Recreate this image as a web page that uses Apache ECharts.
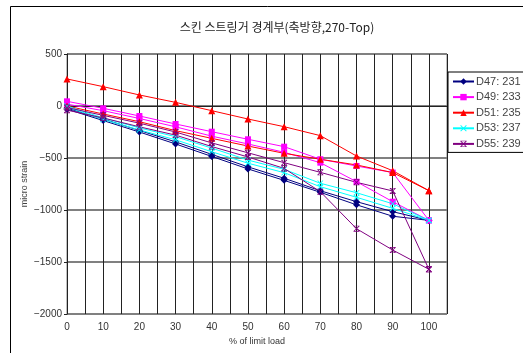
<!DOCTYPE html>
<html><head><meta charset="utf-8">
<script src="https://cdn.jsdelivr.net/npm/echarts@6/dist/echarts.min.js"></script>
<style>html,body{margin:0;padding:0;background:#fff}#c{width:523px;height:353px}</style>
</head><body><div id="c"></div>
<script>
const xValues = [0,10,20,30,40,50,60,70,80,90,100];
const xTicks = [0,10,20,30,40,50,60,70,80,90,100];
const yTicks = [-2000,-1500,-1000,-500,0,500];
const names = ['D47: 231','D49: 233','D51: 235','D53: 237','D55: 239'];
const d47a = [-20,-125,-235,-345,-465,-585,-695,-815,-920,-1016,-1100];
const d47b = [-30,-140,-250,-365,-485,-605,-715,-830,-950,-1060,-1100];
const d49a = [45,-22,-96,-173,-247,-320,-391,-512,-577,-640,-1100];
const d49b = [18,-45,-120,-200,-290,-365,-445,-545,-728,-920,-1100];
const d51a = [260,186,106,35,-45,-125,-199,-285,-481,-622,-814];
const d51b = [0,-77,-151,-237,-311,-385,-455,-512,-567,-640,-814];
const d53a = [0,-115,-210,-295,-405,-520,-609,-743,-834,-940,-1100];
const d53b = [-10,-130,-230,-325,-440,-550,-641,-776,-878,-984,-1100];
const d55a = [-15,-90,-165,-250,-355,-450,-545,-638,-734,-817,-1570];
const d55b = [-40,-115,-200,-280,-390,-490,-600,-824,-1180,-1385,-1570];

const colors = ['#000080','#FF00FF','#FF0000','#00FFFF','#800080'];
const xSym = 'path://M0,1 L1,0 L5,4 L9,0 L10,1 L6,5 L10,9 L9,10 L5,6 L1,10 L0,9 L4,5 Z';
const starSym = 'path://M0,1 L1,0 L5,4 L9,0 L10,1 L6,5 L10,9 L9,10 L5,6 L1,10 L0,9 L4,5 Z M0,0 L10,0 L10,1 L0,1 Z M0,9 L10,9 L10,10 L0,10 Z';
const symbols = ['diamond','rect','triangle',xSym,starSym];
const sizes = [7,6,7,6,6];
const groups = [[d47a,d47b],[d49a,d49b],[d51a,d51b],[d53a,d53b],[d55a,d55b]];

const series = [];
groups.forEach((g,i)=>{
  g.forEach(arr=>{
    series.push({
      name: names[i], type:'line',
      data: xValues.map((x,k)=>[x,arr[k]]),
      symbol: symbols[i], symbolSize: sizes[i], showSymbol:true,
      lineStyle:{color:colors[i], width:1},
      itemStyle:{color:colors[i], borderWidth:0},
      animation:false
    });
  });
});

const chart = echarts.init(document.getElementById('c'), null, {renderer:'canvas'});
chart.setOption({
  animation:false,
  color: colors,
  title:{text:'스킨 스트링거 경계부(축방향,270-Top)', left:272, top:16, textAlign:'center',
    textStyle:{fontFamily:'Noto Sans CJK KR', fontSize:12, fontWeight:'normal', color:'#222'}},
  grid:{left:67, top:54, right:76, bottom:39, show:true, borderColor:'#808080', borderWidth:1},
  legend:{data:names, orient:'vertical', left:448, top:72, width:70,
    borderColor:'#000', borderWidth:1, padding:[4,3,3,4], itemGap:4.6, itemWidth:21, itemHeight:8,
    textStyle:{fontFamily:'Liberation Sans', fontSize:11, color:'#444', padding:[0,0,0,-3]}},
  xAxis:{type:'value', min:0, max:105, interval:5,
    name:'% of limit load', nameLocation:'middle', nameGap:22,
    nameTextStyle:{fontFamily:'Liberation Sans', fontSize:9, color:'#333'},
    axisLine:{lineStyle:{color:'#222', width:1}}, axisTick:{show:false},
    axisLabel:{fontFamily:'Liberation Sans', fontSize:10, color:'#333', margin:8,
      formatter:v=> xTicks.includes(v)? String(v):''},
    splitLine:{show:true, lineStyle:{color:'#222', width:1}}},
  yAxis:{type:'value', min:-2000, max:500, interval:500,
    name:'micro strain', nameLocation:'middle', nameGap:38, nameRotate:90, nameMoveOverlap:false,
    nameTextStyle:{fontFamily:'Liberation Sans', fontSize:9, color:'#444'},
    axisLine:{show:true, lineStyle:{color:'#222', width:1}},
    axisTick:{show:true, length:3, lineStyle:{color:'#222'}},
    axisLabel:{fontFamily:'Liberation Sans', fontSize:10, color:'#333', margin:5,
      formatter:v=> yTicks.includes(v)? String(v).replace('-','\u2212'):''},
    splitLine:{show:true, lineStyle:{color:'#808080', width:2}}},
  graphic:[{type:'rect', shape:{x:10.5, y:6.5, width:600, height:400}, silent:true,
    style:{fill:'none', stroke:'#000', lineWidth:1}}],
  series: series
});
</script></body></html>
